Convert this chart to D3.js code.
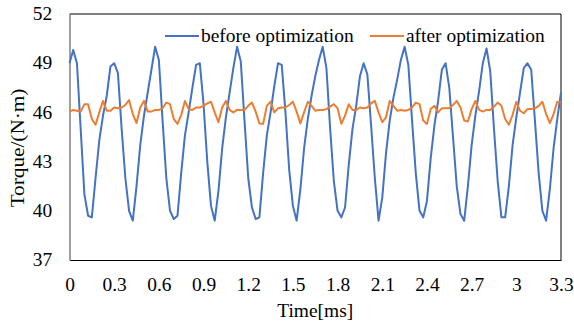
<!DOCTYPE html>
<html>
<head>
<meta charset="utf-8">
<script src="https://cdn.jsdelivr.net/npm/d3@7"></script>
<style>
  body { margin: 0; background: #fff; }
</style>
</head>
<body>
<script>
// torque samples, one every 0.025 ms from 0 to 3.3 ms
const beforeOpt = [
  49.0, 49.8, 49.0, 45.0, 41.0, 39.7, 39.6, 42.0, 44.3, 45.8,
  47.0, 48.8, 49.0, 48.4, 45.0, 42.0, 40.0, 39.4, 41.5, 44.0,
  45.8, 47.2, 48.6, 50.0, 49.2, 45.5, 42.0, 40.0, 39.5, 39.7,
  42.3, 44.6, 46.0, 47.5, 48.9, 49.0, 46.5, 43.0, 40.3, 39.4,
  41.2, 43.8, 45.7, 47.2, 48.7, 50.0, 49.1, 45.5, 42.0, 40.2,
  39.5, 39.6, 42.3, 44.6, 46.0, 47.6, 49.0, 48.9, 46.0, 42.5,
  40.3, 39.4, 41.3, 43.8, 45.6, 47.0, 48.2, 49.2, 50.0, 48.7,
  45.0, 41.8, 40.0, 39.6, 40.2, 42.8, 45.0, 46.4, 48.2, 49.0,
  48.3, 45.2, 42.0, 39.4, 40.8, 43.5, 45.5, 46.9, 48.0, 49.2,
  50.0, 48.9, 45.5, 42.3, 40.0, 39.6, 40.6, 43.2, 45.2, 46.7,
  48.6, 49.0, 47.5, 44.5, 41.5, 39.8, 39.4, 41.5, 44.0, 45.8,
  47.3, 49.0, 49.9, 48.5, 45.0, 41.8, 39.6, 39.6, 41.5, 44.0,
  45.7, 47.2, 48.7, 49.0, 48.6, 45.5, 42.3, 40.0, 39.4, 41.3,
  43.8, 45.6, 47.2
];
const afterOpt = [
  46.05, 46.15, 46.1, 46.05, 46.5, 46.5, 45.6, 45.25, 46.0, 46.7,
  46.1, 46.1, 46.3, 46.25, 46.3, 46.45, 46.75, 45.9, 45.35, 46.3,
  46.7, 46.05, 46.05, 46.15, 46.15, 46.25, 46.6, 46.5, 45.6, 45.3,
  45.84, 46.7, 46.2, 46.15, 46.3, 46.3, 46.4, 46.55, 46.65, 46.0,
  45.4, 46.3, 46.7, 46.15, 46.0, 46.15, 46.15, 46.15, 46.4, 46.6,
  46.05, 45.33, 45.3, 46.4, 46.65, 46.0, 46.25, 46.3, 46.3, 46.45,
  46.65, 46.05, 45.33, 46.0, 46.65, 46.4, 46.1, 46.15, 46.15, 46.2,
  46.35, 46.5, 46.25, 45.3, 45.8, 46.5, 46.15, 46.15, 46.3, 46.25,
  46.3, 46.55, 46.7, 46.0, 45.4, 45.7, 46.7, 46.4, 46.1, 46.15,
  46.1, 46.15, 46.3, 46.6, 46.5, 45.5, 45.3, 46.2, 46.4, 46.0,
  46.25, 46.25, 46.25, 46.45, 46.7, 46.3, 45.5, 45.45, 46.2, 46.7,
  46.15, 46.05, 46.15, 46.15, 46.35, 46.6, 46.4, 45.6, 45.25, 45.85,
  46.65, 46.1, 45.95, 46.2, 46.2, 46.25, 46.4, 46.65, 45.9, 45.35,
  45.9, 46.65, 46.6
];
const step = 0.025;
const xTicks = [0, 0.3, 0.6, 0.9, 1.2, 1.5, 1.8, 2.1, 2.4, 2.7, 3, 3.3];
const yTicks = [37, 40, 43, 46, 49, 52];
const seriesNames = ['before optimization', 'after optimization'];
const colours = ['#4472C4', '#ED7D31'];

const W = 574, H = 325;
const plotLeft = 69.5, plotRight = 561, plotTop = 14, plotBottom = 260;
const font = "'Liberation Serif', 'Times New Roman', serif";
const stretch = 'scale(1.08,1)'; // the source text is a little wide

const svg = d3.select('body').append('svg')
  .attr('width', W)
  .attr('height', H)
  .attr('viewBox', `0 0 ${W} ${H}`);

const x = d3.scaleLinear().domain([0, 3.3]).range([plotLeft, plotRight]);
const y = d3.scaleLinear().domain([37, 52]).range([plotBottom, plotTop]);

// frame: top and right black, left axis grey, bottom axis black
svg.append('line').attr('x1', plotLeft).attr('x2', plotRight).attr('y1', plotTop).attr('y2', plotTop)
  .attr('stroke', '#000').attr('stroke-width', 1);
svg.append('line').attr('x1', plotRight).attr('x2', plotRight).attr('y1', plotTop).attr('y2', plotBottom)
  .attr('stroke', '#000').attr('stroke-width', 1);

const xAxis = svg.append('g')
  .attr('transform', `translate(0,${plotBottom})`)
  .call(d3.axisBottom(x).tickValues(xTicks).tickSize(0).tickPadding(18).tickFormat(d3.format('')));
xAxis.select('.domain').attr('stroke', '#000').attr('stroke-width', 1.2);

const yAxis = svg.append('g')
  .attr('transform', `translate(${plotLeft},0)`)
  .call(d3.axisLeft(y).tickValues(yTicks).tickSize(0).tickPadding(16));
yAxis.select('.domain').attr('stroke', '#808080').attr('stroke-width', 1.5);

svg.selectAll('.tick text')
  .attr('font-family', font)
  .attr('font-size', 18)
  .attr('fill', '#000')
  .attr('transform', stretch);

// lines
const line = d3.line()
  .x((d, i) => x(i * step))
  .y(d => y(d));

[beforeOpt, afterOpt].forEach((series, k) => {
  svg.append('path')
    .datum(series)
    .attr('d', line)
    .attr('fill', 'none')
    .attr('stroke', colours[k])
    .attr('stroke-width', 2)
    .attr('stroke-linejoin', 'round');
});

// axis titles
svg.append('text')
  .attr('transform', `translate(${(plotLeft + plotRight) / 2},317) ${stretch}`)
  .attr('text-anchor', 'middle')
  .attr('font-family', font)
  .attr('font-size', 18)
  .text('Time[ms]');

svg.append('text')
  .attr('transform', `translate(24,${(plotTop + plotBottom) / 2 + 11}) rotate(-90) scale(1.18,1)`)
  .attr('text-anchor', 'middle')
  .attr('font-family', font)
  .attr('font-size', 18)
  .text('Torque/(N·m)');

// legend
const legendX = [165, 370];
seriesNames.forEach((name, k) => {
  svg.append('line')
    .attr('x1', legendX[k]).attr('x2', legendX[k] + 34)
    .attr('y1', 36).attr('y2', 36)
    .attr('stroke', colours[k]).attr('stroke-width', 2);
  svg.append('text')
    .attr('transform', `translate(${legendX[k] + 36},42) ${stretch}`)
    .attr('font-family', font)
    .attr('font-size', 18)
    .text(name);
});
</script>
</body>
</html>
